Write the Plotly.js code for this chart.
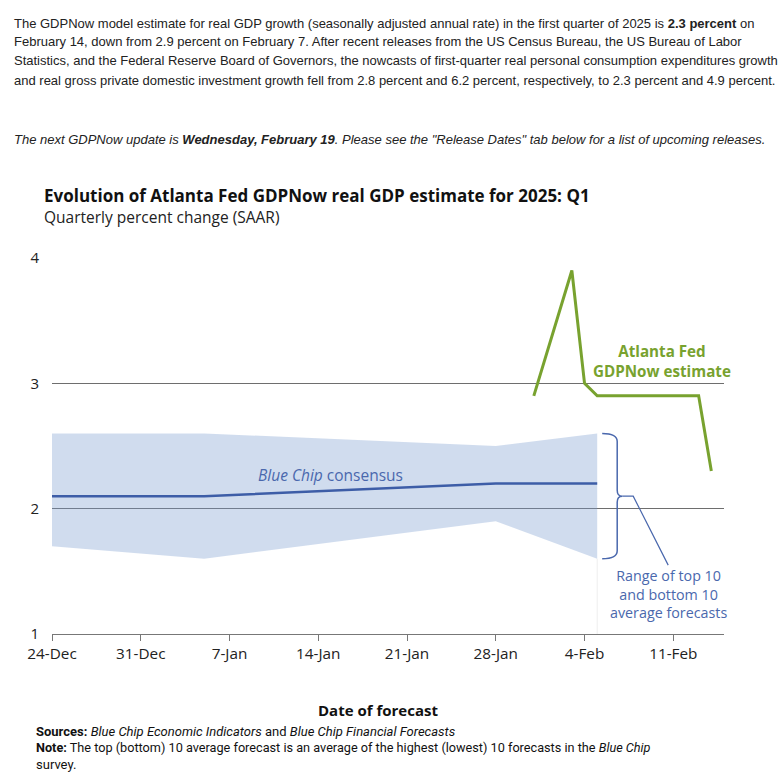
<!DOCTYPE html>
<html>
<head>
<meta charset="utf-8">
<script src="https://cdn.plot.ly/plotly-3.0.1.min.js"></script>
<style>
html,body{margin:0;padding:0;background:#fff;}
#chart{width:778px;height:773px;}
</style>
</head>
<body>
<div id="chart"></div>
<script>
// ---- data ----
const bandDates = ['2024-12-24', '2025-01-05', '2025-01-28', '2025-02-05'];
const bandTop = [2.6, 2.6, 2.5, 2.6];
const bandBottom = [1.7, 1.6, 1.9, 1.6];
const consensus = [2.1, 2.1, 2.2, 2.2];
const nowDates = ['2025-01-31', '2025-02-03', '2025-02-04', '2025-02-05', '2025-02-07', '2025-02-13', '2025-02-14'];
const nowValues = [2.9, 3.9, 3.0, 2.9, 2.9, 2.9, 2.3];
const xTickVals = ['2024-12-24', '2024-12-31', '2025-01-07', '2025-01-14', '2025-01-21', '2025-01-28', '2025-02-04', '2025-02-11'];
const xTickText = ['24-Dec', '31-Dec', '7-Jan', '14-Jan', '21-Jan', '28-Jan', '4-Feb', '11-Feb'];
const yTickVals = [1, 2, 3, 4];
const xRange = ['2024-12-24', '2025-02-15'];
const yRange = [1, 4];

// ---- layout geometry ----
const W = 778, H = 773;
const M = {l: 52, r: 54, t: 258, b: 139};
const plotW = W - M.l - M.r, plotH = H - M.t - M.b;
const px = x => (x - M.l) / plotW;          // figure pixel -> paper x
const py = y => (H - M.b - y) / plotH;      // figure pixel -> paper y
const ms = d => Date.parse(d + 'T00:00:00Z');
const dx = d => M.l + (ms(d) - ms(xRange[0])) / (ms(xRange[1]) - ms(xRange[0])) * plotW; // date -> figure px
const vy = v => H - M.b - (v - yRange[0]) / (yRange[1] - yRange[0]) * plotH;           // value -> figure px

const blue = '#3d5da7';
const green = '#78a22f';
const chartFont = '"Open Sans", Roboto, sans-serif';
const smallFont = 'Roboto, "Open Sans", sans-serif';
const textFont = '"Liberation Sans", Arial, sans-serif';

const traces = [
  {x: bandDates, y: bandTop, type: 'scatter', mode: 'lines', line: {width: 0, color: 'rgba(0,0,0,0)'}, hoverinfo: 'skip', showlegend: false},
  {x: bandDates, y: bandBottom, type: 'scatter', mode: 'lines', fill: 'tonexty', fillcolor: 'rgba(120,155,205,0.35)', line: {width: 0, color: 'rgba(0,0,0,0)'}, hoverinfo: 'skip', showlegend: false},
  {x: bandDates, y: consensus, type: 'scatter', mode: 'lines', line: {color: blue, width: 2.5}, showlegend: false},
  {x: nowDates, y: nowValues, type: 'scatter', mode: 'lines', line: {color: green, width: 3}, showlegend: false}
];

// brace next to the band end
const lastD = bandDates[bandDates.length - 1];
const bx = dx(lastD) + 5;
const yT = vy(bandTop[bandTop.length - 1]);
const yB = vy(bandBottom[bandBottom.length - 1]);
const yM = (yT + yB) / 2;
const bw = 15;
function P(x, y) { return px(x).toFixed(5) + ',' + py(y).toFixed(5); }
const bracePath = 'M' + P(bx, yT) +
  ' Q' + P(bx + bw, yT) + ' ' + P(bx + bw, yT + 8) +
  ' L' + P(bx + bw, yM - 6) +
  ' Q' + P(bx + bw, yM) + ' ' + P(bx + bw + 5, yM) +
  ' Q' + P(bx + bw, yM) + ' ' + P(bx + bw, yM + 6) +
  ' L' + P(bx + bw, yB - 8) +
  ' Q' + P(bx + bw, yB) + ' ' + P(bx, yB);
const leaderPath = 'M' + P(bx + bw + 5, yM) + ' L' + P(bx + bw + 16, yM) + ' L' + P(bx + bw + 51, yM + 69);

const shapes = [
  {type: 'line', xref: 'x', yref: 'y', x0: lastD, x1: lastD, y0: yRange[0], y1: bandBottom[bandBottom.length - 1], line: {color: 'rgba(0,0,0,0.07)', width: 1}, layer: 'below'},
  {type: 'path', xref: 'paper', yref: 'paper', path: bracePath, line: {color: '#4a68ad', width: 1.5}},
  {type: 'path', xref: 'paper', yref: 'paper', path: leaderPath, line: {color: '#4a68ad', width: 1.2}}
];

const headerLines = [
  'The GDPNow model estimate for real GDP growth (seasonally adjusted annual rate) in the first quarter of 2025 is <b>2.3 percent</b> on',
  'February 14, down from 2.9 percent on February 7. After recent releases from the US Census Bureau, the US Bureau of Labor',
  'Statistics, and the Federal Reserve Board of Governors, the nowcasts of first-quarter real personal consumption expenditures growth',
  'and real gross private domestic investment growth fell from 2.8 percent and 6.2 percent, respectively, to 2.3 percent and 4.9 percent.'
];
const headerY = [23, 42, 61, 80];

const annotations = [];
headerLines.forEach((t, i) => annotations.push({
  xref: 'paper', yref: 'paper', x: px(12), y: py(headerY[i]), xanchor: 'left', yanchor: 'middle',
  text: t, showarrow: false, align: 'left', font: {family: textFont, size: 13, color: '#222'}
}));
annotations.push({
  xref: 'paper', yref: 'paper', x: px(12), y: py(139), xanchor: 'left', yanchor: 'middle', showarrow: false,
  text: '<i>The next GDPNow update is <b>Wednesday, February 19</b>. Please see the "Release Dates" tab below for a list of upcoming releases.</i>',
  font: {family: textFont, size: 13, color: '#222'}
});
annotations.push({
  xref: 'paper', yref: 'paper', x: px(42), y: py(196), xanchor: 'left', yanchor: 'middle', showarrow: false,
  text: '<b>Evolution of Atlanta Fed GDPNow real GDP estimate for 2025: Q1</b>',
  font: {family: chartFont, size: 17, color: '#111'}
});
annotations.push({
  xref: 'paper', yref: 'paper', x: px(42), y: py(217), xanchor: 'left', yanchor: 'middle', showarrow: false,
  text: 'Quarterly percent change (SAAR)',
  font: {family: chartFont, size: 15.5, color: '#222'}
});
annotations.push({
  xref: 'x', yref: 'y', x: '2025-01-15', y: 2.27, xanchor: 'center', yanchor: 'middle', showarrow: false,
  text: '<i>Blue Chip</i> consensus', font: {family: chartFont, size: 15.5, color: '#4a68ad'}
});
annotations.push({
  xref: 'x', yref: 'y', x: '2025-02-10T02:00:00', y: 3.18, xanchor: 'center', yanchor: 'middle', showarrow: false,
  text: '<b>Atlanta Fed<br>GDPNow estimate</b>', font: {family: chartFont, size: 15.2, color: green}
});
annotations.push({
  xref: 'x', yref: 'y', x: '2025-02-10T14:00:00', y: 1.32, xanchor: 'center', yanchor: 'middle', showarrow: false,
  text: 'Range of top 10<br>and bottom 10<br>average forecasts', font: {family: chartFont, size: 14.3, color: '#4a68ad'}
});
annotations.push({
  xref: 'paper', yref: 'paper', x: px(378), y: py(710), xanchor: 'center', yanchor: 'middle', showarrow: false,
  text: '<b>Date of forecast</b>', font: {family: chartFont, size: 15, color: '#111'}
});
annotations.push({
  xref: 'paper', yref: 'paper', x: px(34), y: py(731), xanchor: 'left', yanchor: 'middle', showarrow: false,
  text: '<b>Sources:</b> <i>Blue Chip Economic Indicators</i> and <i>Blue Chip Financial Forecasts</i>',
  font: {family: smallFont, size: 13, color: '#111'}
});
annotations.push({
  xref: 'paper', yref: 'paper', x: px(34), y: py(747), xanchor: 'left', yanchor: 'middle', showarrow: false,
  text: '<b>Note:</b> The top (bottom) 10 average forecast is an average of the highest (lowest) 10 forecasts in the <i>Blue Chip</i>',
  font: {family: smallFont, size: 12.7, color: '#111'}
});
annotations.push({
  xref: 'paper', yref: 'paper', x: px(34), y: py(764), xanchor: 'left', yanchor: 'middle', showarrow: false,
  text: 'survey.', font: {family: smallFont, size: 13, color: '#111'}
});

const layout = {
  width: W, height: H,
  margin: M,
  paper_bgcolor: '#fff', plot_bgcolor: '#fff',
  showlegend: false,
  font: {family: chartFont, size: 15, color: '#222'},
  xaxis: {
    type: 'date', range: xRange, tickvals: xTickVals, ticktext: xTickText,
    showgrid: false, zeroline: false, showline: true, linecolor: '#777', linewidth: 1,
    ticks: 'outside', ticklen: 6, tickcolor: '#777', tickwidth: 1,
    tickfont: {family: chartFont, size: 15.3, color: '#222'}, fixedrange: true
  },
  yaxis: {
    range: yRange, tickvals: yTickVals, showgrid: true, gridcolor: '#6e6e6e', gridwidth: 1,
    zeroline: false, showline: false, ticks: '', ticklabelstandoff: 12,
    tickfont: {family: chartFont, size: 15, color: '#222'}, fixedrange: true
  },
  shapes: shapes,
  annotations: annotations
};

Plotly.newPlot('chart', traces, layout, {displayModeBar: false, staticPlot: true});
</script>
</body>
</html>
